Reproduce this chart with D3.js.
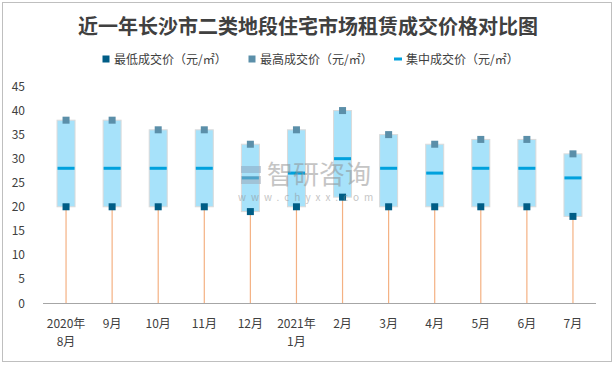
<!DOCTYPE html>
<html>
<head>
<meta charset="utf-8">
<script src="https://cdn.jsdelivr.net/npm/d3@7/dist/d3.min.js"></script>
<style>
body{margin:0;background:#fff;}
svg{display:block;font-family:"Noto Sans CJK SC","Noto Sans",sans-serif;}
</style>
</head>
<body>
<svg id="c" width="616" height="366"></svg>
<script>
const categories = ["2020年\n8月","9月","10月","11月","12月","2021年\n1月","2月","3月","4月","5月","6月","7月"];
const minPrice = [20,20,20,20,19,20,22,20,20,20,20,18];
const maxPrice = [38,38,36,36,33,36,40,35,33,34,34,31];
const midPrice = [28,28,28,28,26,27,30,28,27,28,28,26];
const yTicks = [0,5,10,15,20,25,30,35,40,45];
const legendLabels = ["最低成交价（元/㎡）","最高成交价（元/㎡）","集中成交价（元/㎡）"];

const svg = d3.select("#c");

svg.append("rect").attr("x",2.5).attr("y",2.5).attr("width",609).attr("height",359)
  .attr("fill","#fff").attr("stroke","#bfbfbf").attr("stroke-width",1);

svg.append("text").attr("x",308).attr("y",34).attr("text-anchor","middle")
  .attr("font-size",20).attr("font-weight","bold").attr("fill","#404040")
  .text("近一年长沙市二类地段住宅市场租赁成交价格对比图");

const x = d3.scaleBand().domain(categories).range([43,596]).padding(0);
const y = d3.scaleLinear().domain([0,45]).range([303,86.5]);

// y axis labels
svg.append("g").selectAll("text").data(yTicks).join("text")
  .attr("x",25).attr("y",d=>y(d)+4.5).attr("text-anchor","end")
  .attr("font-size",12).attr("fill","#404040").text(d=>d);

const bw = 18;
const g = svg.append("g");
categories.forEach((c,i)=>{
  const cx = x(c)+x.bandwidth()/2;
  g.append("line").attr("x1",cx).attr("x2",cx).attr("y1",y(0)).attr("y2",y(minPrice[i]))
    .attr("stroke","#f4b183").attr("stroke-width",1.2);
  g.append("rect").attr("x",cx-bw/2).attr("y",y(maxPrice[i]))
    .attr("width",bw).attr("height",y(minPrice[i])-y(maxPrice[i]))
    .attr("fill","#a7e2fa").attr("stroke","#dadada").attr("stroke-width",1);
  g.append("rect").attr("x",cx-bw/2+0.5).attr("y",y(midPrice[i])-1.5).attr("width",bw-1).attr("height",3)
    .attr("fill","#00a1dd");
  g.append("rect").attr("x",cx-3.5).attr("y",y(maxPrice[i])-3.5).attr("width",7).attr("height",7)
    .attr("fill","#5b8fa9");
  g.append("rect").attr("x",cx-3.5).attr("y",y(minPrice[i])-3.5).attr("width",7).attr("height",7)
    .attr("fill","#005d86");
});

// x axis
svg.append("line").attr("x1",43).attr("x2",596).attr("y1",303.5).attr("y2",303.5)
  .attr("stroke","#a6a6a6").attr("stroke-width",1);
const xl = svg.append("g");
categories.forEach(c=>{
  const cx = x(c)+x.bandwidth()/2;
  c.split("\n").forEach((s,j)=>{
    xl.append("text").attr("x",cx).attr("y",328+j*18).attr("text-anchor","middle")
      .attr("font-size",12).attr("fill","#404040").text(s);
  });
});

// watermark (on top, translucent)
const wm = svg.append("g").attr("opacity",0.5);
wm.append("rect").attr("x",241).attr("y",166).attr("width",20).attr("height",7).attr("fill","#8aa3bd");
wm.append("rect").attr("x",241).attr("y",176).attr("width",20).attr("height",8).attr("fill","#9aa6b6");
wm.append("text").attr("x",267).attr("y",184).attr("font-size",26).attr("fill","#8c8c8c").text("智研咨询");
wm.append("text").attr("x",238).attr("y",201).attr("font-size",10).attr("fill","#8c8c8c")
  .attr("letter-spacing",5).text("www.chyxx.com");

// legend
const lx = [106,252,398];
legendLabels.forEach((t,i)=>{
  if(i<2){
    svg.append("rect").attr("x",lx[i]-3.5).attr("y",55.5).attr("width",7).attr("height",7)
      .attr("fill",i===0?"#005d86":"#5b8fa9");
  } else {
    svg.append("rect").attr("x",lx[i]-4).attr("y",57.5).attr("width",8).attr("height",3).attr("fill","#00a1dd");
  }
  svg.append("text").attr("x",lx[i]+8).attr("y",63.5).attr("font-size",12).attr("fill","#404040").text(t);
});
</script>
</body>
</html>
